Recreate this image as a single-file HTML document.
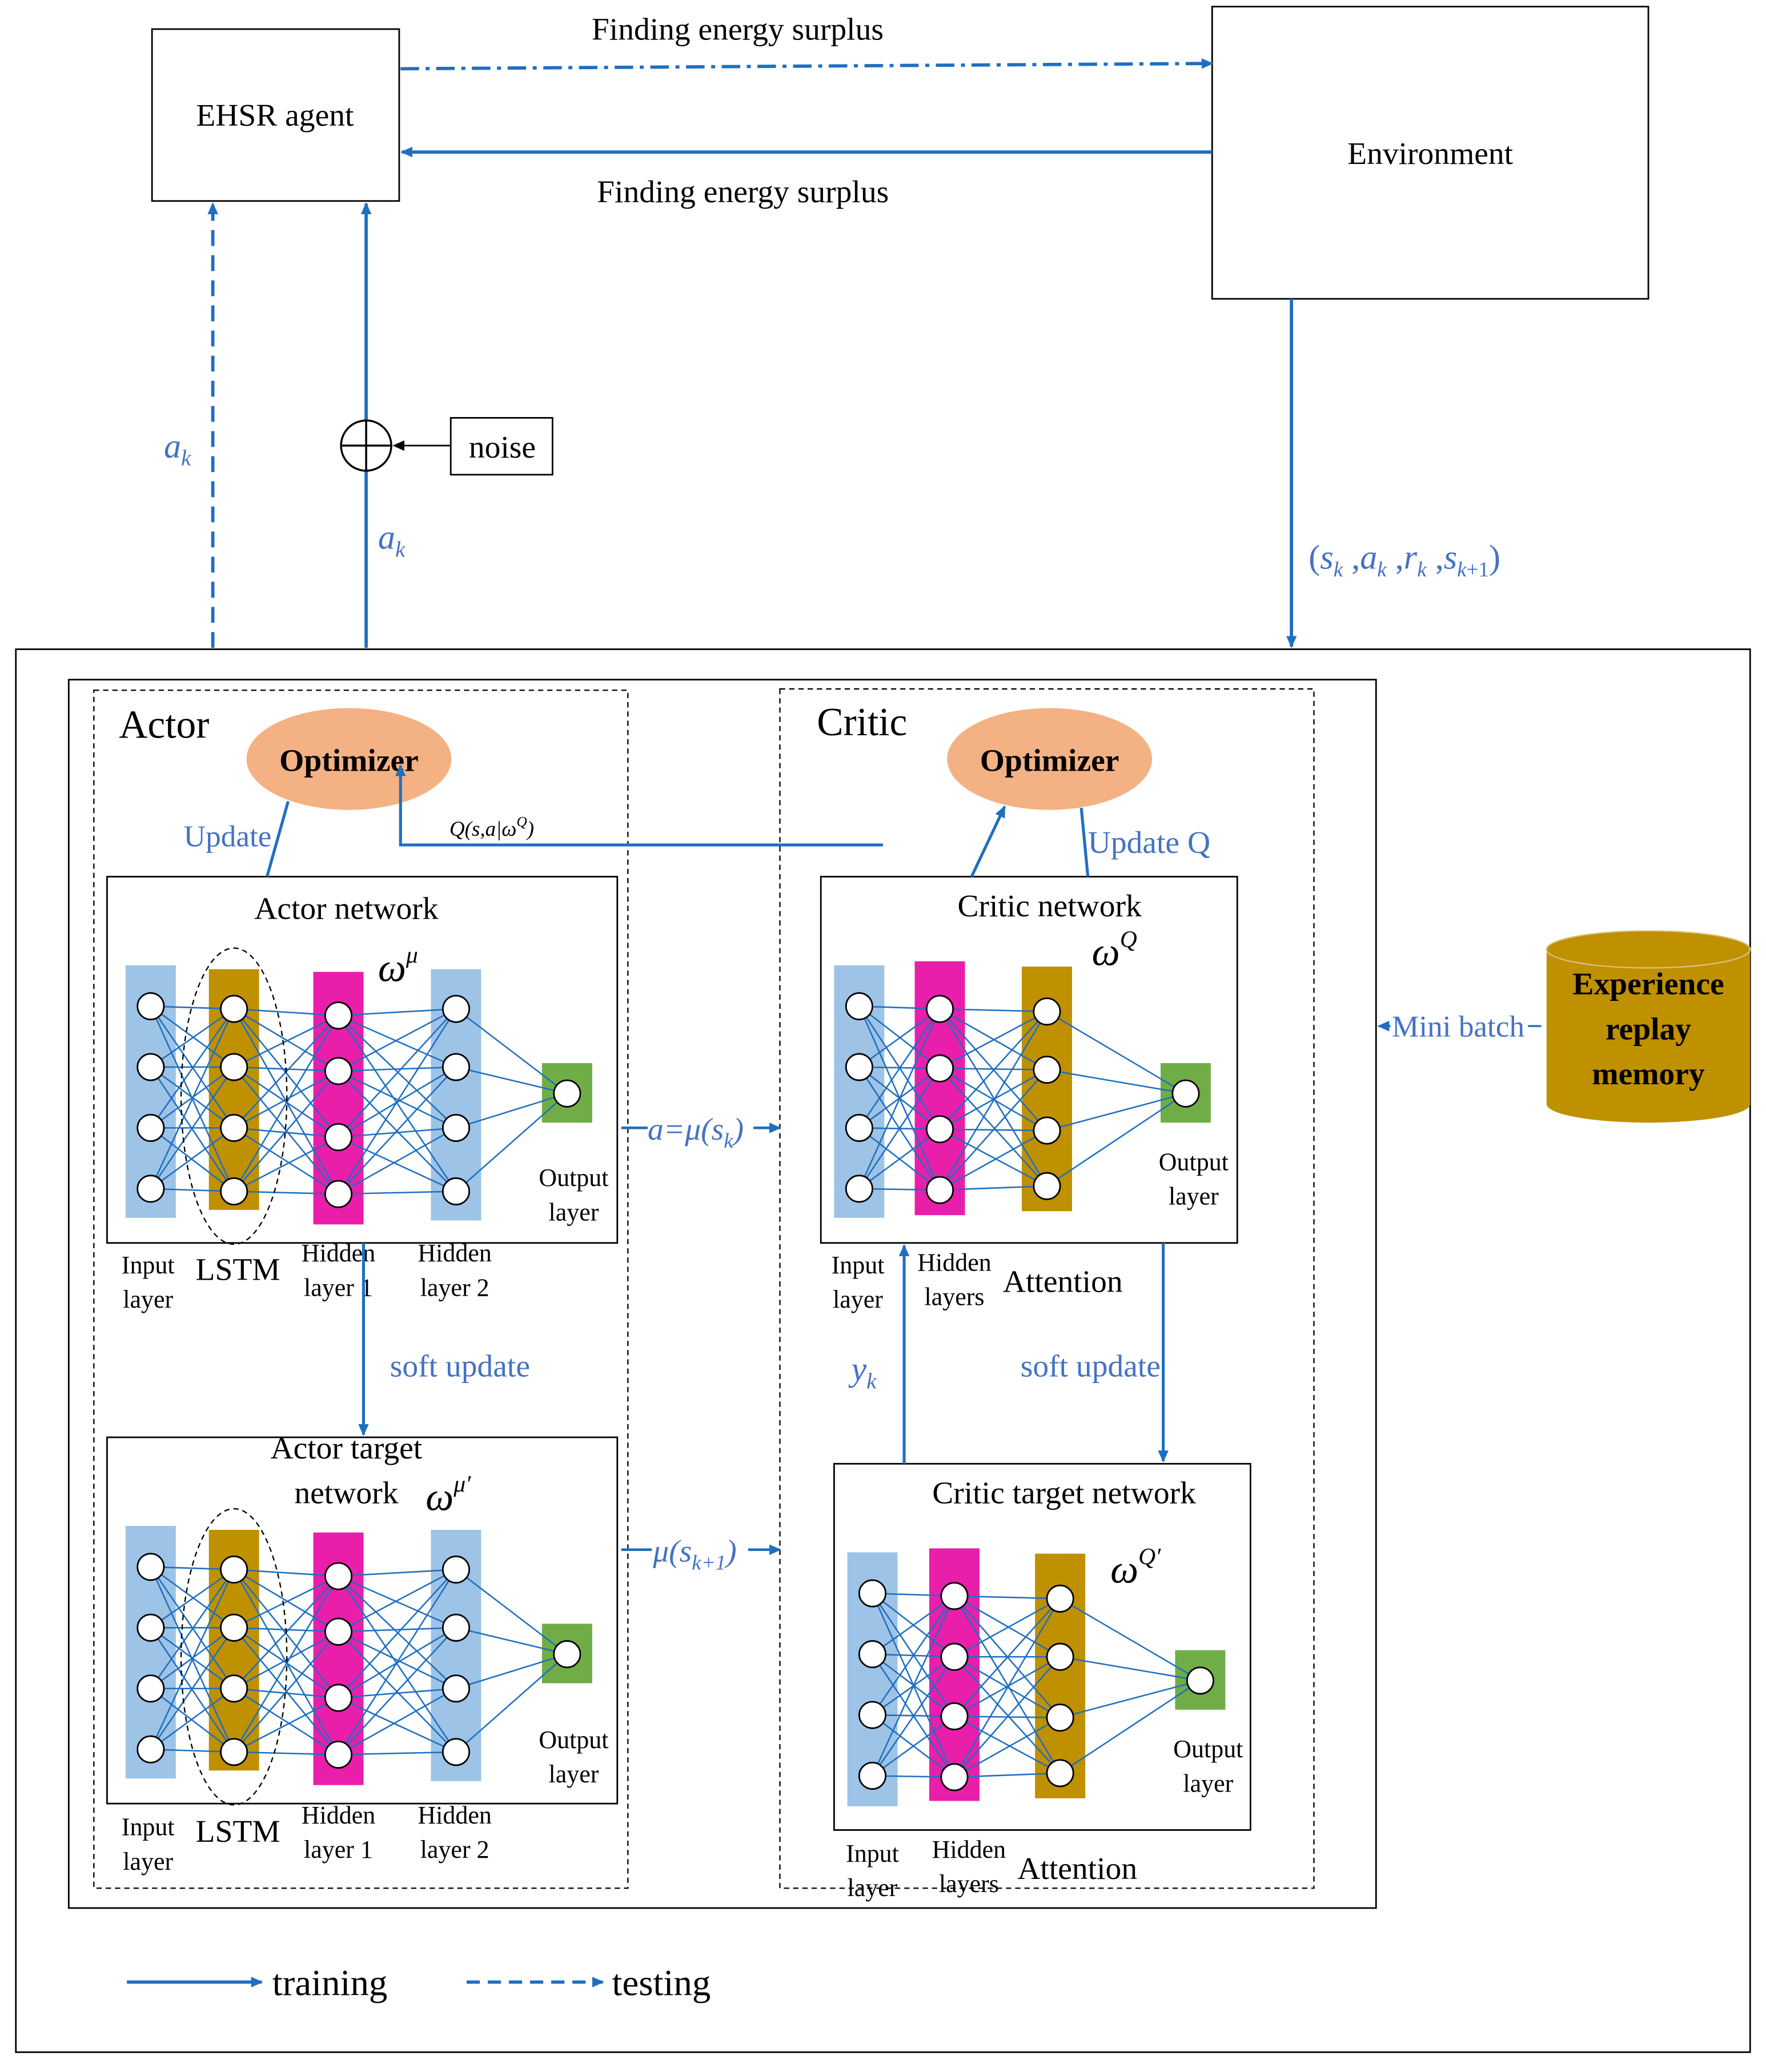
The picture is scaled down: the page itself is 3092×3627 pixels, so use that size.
<!DOCTYPE html>
<html><head><meta charset="utf-8">
<style>
html,body{margin:0;padding:0;background:#fff;}
svg{display:block;}
text{font-family:"Liberation Serif",serif;}
.b{fill:#4472c4;}
</style></head>
<body>
<svg id="s" width="3092" height="3627" viewBox="0 0 1336 1567" preserveAspectRatio="none" xmlns="http://www.w3.org/2000/svg">
<defs>
<marker id="ar" markerWidth="10" markerHeight="10" refX="8" refY="4" orient="auto" markerUnits="userSpaceOnUse"><path d="M0,0 L9,4 L0,8 z" fill="#1f6fc0"/></marker>
<marker id="ak" markerWidth="10" markerHeight="10" refX="8" refY="4" orient="auto" markerUnits="userSpaceOnUse"><path d="M0,0 L9,4 L0,8 z" fill="#000"/></marker>
</defs>
<rect width="1336" height="1567" fill="#fff"/>
<rect x="115" y="22" width="187" height="130" fill="none" stroke="#000" stroke-width="1.2"/>
<text x="208" y="95" font-size="24" text-anchor="middle">EHSR agent</text>
<rect x="917" y="5" width="330" height="221" fill="none" stroke="#000" stroke-width="1.2"/>
<text x="1082" y="124" font-size="24" text-anchor="middle">Environment</text>
<line x1="303" y1="52" x2="917" y2="48" stroke="#1f6fc0" stroke-width="2.5" stroke-dasharray="14,5,3,5" marker-end="url(#ar)"/>
<text x="558" y="30" font-size="24" text-anchor="middle">Finding  energy surplus</text>
<line x1="917" y1="115" x2="304" y2="115" stroke="#1f6fc0" stroke-width="2.5" marker-end="url(#ar)"/>
<text x="562" y="153" font-size="24" text-anchor="middle">Finding  energy surplus</text>
<line x1="161" y1="490" x2="161" y2="154" stroke="#1f6fc0" stroke-width="2.5" stroke-dasharray="12,7" marker-end="url(#ar)"/>
<text x="124" y="346" font-size="26" font-style="italic" class="b">a<tspan font-size="17" dy="6">k</tspan></text>
<line x1="277" y1="490" x2="277" y2="154" stroke="#1f6fc0" stroke-width="2.5" marker-end="url(#ar)"/>
<circle cx="277" cy="337" r="19" fill="#fff" stroke="#000" stroke-width="1.5"/>
<line x1="258" y1="337" x2="296" y2="337" stroke="#000" stroke-width="1.5"/>
<line x1="277" y1="318" x2="277" y2="356" stroke="#000" stroke-width="1.5"/>
<rect x="341" y="316" width="77" height="43" fill="#fff" stroke="#000" stroke-width="1.2"/>
<text x="380" y="346" font-size="24" text-anchor="middle">noise</text>
<line x1="341" y1="337" x2="298" y2="337" stroke="#000" stroke-width="1.2" marker-end="url(#ak)"/>
<text x="286" y="415" font-size="26" font-style="italic" class="b">a<tspan font-size="17" dy="6">k</tspan></text>
<line x1="977" y1="226" x2="977" y2="489" stroke="#1f6fc0" stroke-width="2.5" marker-end="url(#ar)"/>
<text x="990" y="430" font-size="26" class="b">(<tspan font-style="italic">s</tspan><tspan font-size="16" dy="6" font-style="italic">k</tspan><tspan dy="-6"> ,</tspan><tspan font-style="italic">a</tspan><tspan font-size="16" dy="6" font-style="italic">k</tspan><tspan dy="-6"> ,</tspan><tspan font-style="italic">r</tspan><tspan font-size="16" dy="6" font-style="italic">k</tspan><tspan dy="-6"> ,</tspan><tspan font-style="italic">s</tspan><tspan font-size="16" dy="6" font-style="italic">k</tspan><tspan font-size="16">+1</tspan><tspan dy="-6">)</tspan></text>
<rect x="12" y="491" width="1312" height="1061" fill="none" stroke="#000" stroke-width="1.2"/>
<rect x="52" y="514" width="989" height="929" fill="none" stroke="#000" stroke-width="1.2"/>
<rect x="71" y="522" width="404" height="906" fill="none" stroke="#000" stroke-width="1" stroke-dasharray="4,3"/>
<rect x="590" y="521" width="404" height="907" fill="none" stroke="#000" stroke-width="1" stroke-dasharray="4,3"/>
<text x="90" y="558" font-size="30">Actor</text>
<text x="618" y="556" font-size="30">Critic</text>
<ellipse cx="264" cy="574" rx="77" ry="38" fill="#f4b183" stroke="#f4b183"/>
<text x="264" y="583" font-size="24" font-weight="bold" text-anchor="middle" font-family="Liberation Sans,sans-serif">Optimizer</text>
<ellipse cx="794" cy="574" rx="77" ry="38" fill="#f4b183" stroke="#f4b183"/>
<text x="794" y="583" font-size="24" font-weight="bold" text-anchor="middle" font-family="Liberation Sans,sans-serif">Optimizer</text>
<rect x="81" y="663" width="386" height="277" fill="#fff" stroke="#000" stroke-width="1.2"/>
<rect x="81" y="1087" width="386" height="277" fill="#fff" stroke="#000" stroke-width="1.2"/>
<rect x="621" y="663" width="315" height="277" fill="#fff" stroke="#000" stroke-width="1.2"/>
<rect x="631" y="1107" width="315" height="277" fill="#fff" stroke="#000" stroke-width="1.2"/>
<g id="nets"></g>
<text x="262" y="695" font-size="24" text-anchor="middle">Actor network</text>
<text x="286" y="742" font-size="30" font-style="italic">ω<tspan font-size="18" dy="-14">μ</tspan></text>
<text x="262" y="1103" font-size="24" text-anchor="middle">Actor  target</text>
<text x="262" y="1137" font-size="24" text-anchor="middle">network</text>
<text x="322" y="1142" font-size="30" font-style="italic">ω<tspan font-size="18" dy="-14">μ′</tspan></text>
<text x="794" y="693" font-size="24" text-anchor="middle">Critic  network</text>
<text x="826" y="730" font-size="30" font-style="italic">ω<tspan font-size="18" dy="-14">Q</tspan></text>
<text x="805" y="1137" font-size="24" text-anchor="middle">Critic target network</text>
<text x="840" y="1197" font-size="30" font-style="italic">ω<tspan font-size="18" dy="-14">Q′</tspan></text>
<g font-size="19" text-anchor="middle">
<text x="112" y="963">Input</text><text x="112" y="989">layer</text>
<text x="256" y="954">Hidden</text><text x="256" y="980">layer 1</text>
<text x="344" y="954">Hidden</text><text x="344" y="980">layer 2</text>
<text x="434" y="897">Output</text><text x="434" y="923">layer</text>
<text x="112" y="1388">Input</text><text x="112" y="1414">layer</text>
<text x="256" y="1379">Hidden</text><text x="256" y="1405">layer 1</text>
<text x="344" y="1379">Hidden</text><text x="344" y="1405">layer 2</text>
<text x="434" y="1322">Output</text><text x="434" y="1348">layer</text>
<text x="649" y="963">Input</text><text x="649" y="989">layer</text>
<text x="722" y="961">Hidden</text><text x="722" y="987">layers</text>
<text x="903" y="885">Output</text><text x="903" y="911">layer</text>
<text x="660" y="1408">Input</text><text x="660" y="1434">layer</text>
<text x="733" y="1405">Hidden</text><text x="733" y="1431">layers</text>
<text x="914" y="1329">Output</text><text x="914" y="1355">layer</text>
</g>
<text x="180" y="968" font-size="24" text-anchor="middle">LSTM</text>
<text x="180" y="1393" font-size="24" text-anchor="middle">LSTM</text>
<text x="804" y="977" font-size="24" text-anchor="middle">Attention</text>
<text x="815" y="1421" font-size="24" text-anchor="middle">Attention</text>
<line x1="218" y1="606" x2="202" y2="663" stroke="#1f6fc0" stroke-width="2.2"/>
<text x="139" y="640" font-size="23" class="b">Update</text>
<line x1="735" y1="663" x2="760" y2="610" stroke="#1f6fc0" stroke-width="2.2" marker-end="url(#ar)"/>
<line x1="818" y1="611" x2="823" y2="663" stroke="#1f6fc0" stroke-width="2.2"/>
<text x="823" y="645" font-size="24" class="b">Update Q</text>
<polyline points="668,639 303,639 303,579" fill="none" stroke="#1f6fc0" stroke-width="2.2" marker-end="url(#ar)"/>
<text x="340" y="632" font-size="16" font-style="italic">Q(s,a|ω<tspan font-size="11" dy="-7">Q</tspan><tspan dy="7">)</tspan></text>
<line x1="275" y1="940" x2="275" y2="1085" stroke="#1f6fc0" stroke-width="2.2" marker-end="url(#ar)"/>
<text x="348" y="1041" font-size="24" text-anchor="middle" class="b">soft update</text>
<line x1="880" y1="940" x2="880" y2="1105" stroke="#1f6fc0" stroke-width="2.2" marker-end="url(#ar)"/>
<text x="825" y="1041" font-size="24" text-anchor="middle" class="b">soft update</text>
<line x1="684" y1="1107" x2="684" y2="942" stroke="#1f6fc0" stroke-width="2.2" marker-end="url(#ar)"/>
<text x="644" y="1044" font-size="26" font-style="italic" class="b">y<tspan font-size="17" dy="6">k</tspan></text>
<line x1="470" y1="853" x2="490" y2="853" stroke="#1f6fc0" stroke-width="2"/>
<line x1="570" y1="853" x2="590" y2="853" stroke="#1f6fc0" stroke-width="2" marker-end="url(#ar)"/>
<text x="490" y="862" font-size="24" font-style="italic" class="b">a=μ(s<tspan font-size="16" dy="6">k</tspan><tspan dy="-6">)</tspan></text>
<line x1="470" y1="1172" x2="493" y2="1172" stroke="#1f6fc0" stroke-width="2"/>
<line x1="566" y1="1172" x2="590" y2="1172" stroke="#1f6fc0" stroke-width="2" marker-end="url(#ar)"/>
<text x="494" y="1181" font-size="24" font-style="italic" class="b">μ(s<tspan font-size="16" dy="6">k+1</tspan><tspan dy="-6">)</tspan></text>
<line x1="1052" y1="776" x2="1043" y2="776" stroke="#1f6fc0" stroke-width="1.5" marker-end="url(#ar)"/>
<text x="1053" y="784" font-size="23" class="b">Mini batch</text>
<line x1="1156" y1="776" x2="1166" y2="776" stroke="#1f6fc0" stroke-width="1.5"/>
<path d="M1170,718 L1170,835 A77,14 0 0 0 1324,835 L1324,718 Z" fill="#bf9000"/>
<ellipse cx="1247" cy="718" rx="77" ry="14" fill="#bf9000" stroke="#d9c27a" stroke-width="1"/>
<g font-size="24" font-weight="bold" text-anchor="middle">
<text x="1247" y="752">Experience</text><text x="1247" y="786">replay</text><text x="1247" y="820">memory</text></g>
<line x1="96" y1="1499" x2="198" y2="1499" stroke="#1f6fc0" stroke-width="2.5" marker-end="url(#ar)"/>
<text x="206" y="1509" font-size="28">training</text>
<line x1="353" y1="1499" x2="456" y2="1499" stroke="#1f6fc0" stroke-width="2.5" stroke-dasharray="10,6" marker-end="url(#ar)"/>
<text x="463" y="1509" font-size="28">testing</text>
</svg>
<script>
(function(){
var NS="http://www.w3.org/2000/svg",g=document.getElementById("nets");
function el(t,a){var e=document.createElementNS(NS,t);for(var k in a)e.setAttribute(k,a[k]);g.appendChild(e);return e;}
var C={b:"#9dc3e6",g:"#bf9000",p:"#e91eaa",o:"#70ad47"};
function net(L,lstm){
 L.forEach(function(l){el("rect",{x:l.x-19,y:l.y0,width:38,height:l.y1-l.y0,fill:C[l.c]});});
 for(var i=0;i<L.length-1;i++){var a=L[i],b=L[i+1];
  a.n.forEach(function(y1){b.n.forEach(function(y2){el("line",{x1:a.x,y1:y1,x2:b.x,y2:y2,stroke:"#1f6fc0","stroke-width":1.1});});});}
 L.forEach(function(l){l.n.forEach(function(y){el("circle",{cx:l.x,cy:y,r:10,fill:"#fff",stroke:"#000","stroke-width":1.2});});});
 if(lstm)el("ellipse",{cx:lstm[0],cy:lstm[1],rx:40,ry:112,fill:"none",stroke:"#000","stroke-dasharray":"4,3","stroke-width":1});
}
function actor(dy){
 net([{x:114,y0:730+dy,y1:921+dy,c:"b",n:[761,807,853,899].map(v=>v+dy)},
 {x:177,y0:733+dy,y1:915+dy,c:"g",n:[763,807,853,901].map(v=>v+dy)},
 {x:256,y0:735+dy,y1:926+dy,c:"p",n:[768,810,860,903].map(v=>v+dy)},
 {x:345,y0:733+dy,y1:923+dy,c:"b",n:[763,807,853,901].map(v=>v+dy)},
 {x:429,y0:804+dy,y1:849+dy,c:"o",n:[827+dy]}],[177,829+dy]);
}
actor(0);actor(424);
net([{x:650,y0:730,y1:921,c:"b",n:[761,807,853,899]},
 {x:711,y0:727,y1:919,c:"p",n:[763,808,854,900]},
 {x:792,y0:731,y1:916,c:"g",n:[765,809,855,897]},
 {x:897,y0:804,y1:849,c:"o",n:[827]}]);
net([{x:660,y0:1174,y1:1366,c:"b",n:[1205,1251,1297,1343]},
 {x:722,y0:1171,y1:1362,c:"p",n:[1207,1253,1298,1344]},
 {x:802,y0:1175,y1:1360,c:"g",n:[1209,1253,1299,1341]},
 {x:908,y0:1248,y1:1293,c:"o",n:[1271]}]);
})();
</script>
</body></html>
